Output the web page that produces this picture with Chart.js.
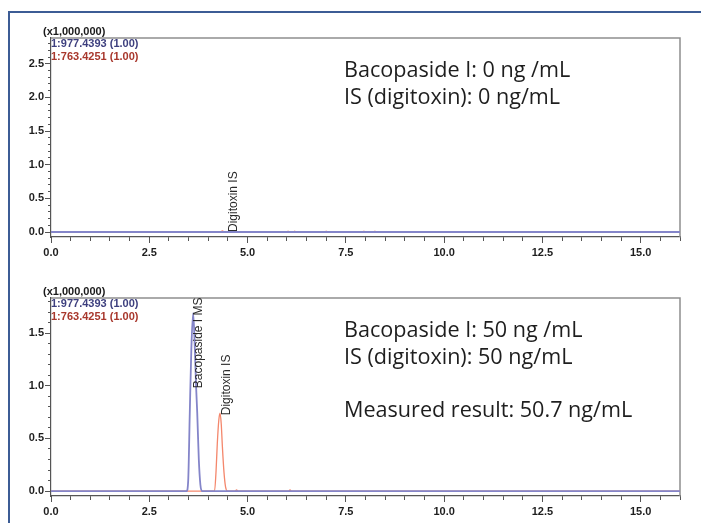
<!DOCTYPE html>
<html><head><meta charset="utf-8">
<script src="https://cdn.jsdelivr.net/npm/chart.js@4"></script>
<style>
html,body{margin:0;padding:0;background:#fff;width:701px;height:523px;overflow:hidden;position:relative;}
#frame{position:absolute;left:8px;top:11px;width:700px;height:520px;border-left:2px solid #3c5c95;border-top:2px solid #3c5c95;}
canvas{position:absolute;left:0;}
#c1{top:0}
#c2{top:262px}
</style></head><body>
<div id="frame"></div>
<canvas id="c1" width="701" height="262"></canvas>
<canvas id="c2" width="701" height="261"></canvas>
<script>
// ---- tick labels ----
const xMajorTicks = [0, 2.5, 5, 7.5, 10, 12.5, 15];
const yMajorTicksTop = [0, 0.5, 1, 1.5, 2, 2.5];
const yMajorTicksBottom = [0, 0.5, 1, 1.5];

// ---- blank sample (top) : m/z 977.4393 and 763.4251, intensity x1,000,000 ----
const blankTime977 = [0, 16];
const blankInt977 = [0, 0];
const blankTime763 = [0, 4.30, 4.36, 4.42, 6.00, 6.03, 6.06, 6.17, 6.20, 6.23, 6.97, 7.00, 7.03, 7.93, 7.96, 7.99, 8.21, 8.24, 8.27, 16];
const blankInt763 = [0, 0, 0.015, 0, 0, 0.012, 0, 0, 0.012, 0, 0, 0.012, 0, 0, 0.012, 0, 0, 0.012, 0, 0];

// ---- 50 ng/mL sample (bottom) ----
const stdTime977 = [0, 3.45, 3.49, 3.53, 3.57, 3.615, 3.65, 3.69, 3.72, 3.76, 3.80, 3.84, 16];
const stdInt977 = [0, 0, 0.10, 0.74, 1.35, 1.69, 1.45, 1.00, 0.74, 0.30, 0.06, 0, 0];
const stdTime763 = [0, 4.16, 4.20, 4.23, 4.27, 4.30, 4.33, 4.36, 4.40, 4.44, 4.49, 4.69, 4.72, 4.75, 6.05, 6.08, 6.11, 16];
const stdInt763 = [0, 0, 0.20, 0.45, 0.68, 0.74, 0.64, 0.42, 0.18, 0.04, 0, 0, 0.012, 0, 0, 0.012, 0, 0];

// ---- peak labels ----
const topPeakNames = ['Digitoxin IS'];
const topPeakTimes = [4.64];
const topPeakBase = [0];
const bottomPeakNames = ['Bacopaside I MS', 'Digitoxin IS'];
const bottomPeakTimes = [3.76, 4.46];
const bottomPeakBase = [0.977, 0.72];

// ---- texts ----
const scaleNote = '(x1,000,000)';
const traceNames = ['1:977.4393 (1.00)', '1:763.4251 (1.00)'];
const topNotes = ['Bacopaside I: 0 ng /mL', 'IS (digitoxin): 0 ng/mL'];
const bottomNotes = ['Bacopaside I: 50 ng /mL', 'IS (digitoxin): 50 ng/mL', '', 'Measured result: 50.7 ng/mL'];

Chart.defaults.font.family = "'Liberation Sans', Arial, sans-serif";

const BLUE = '#8485c9', RED = '#f4876c';
const zip = (t, v) => t.map((x, i) => ({x: x, y: v[i]}));

const chartPlugin = {
  id: 'chromDecor',
  beforeDatasetsDraw(chart) {
    const {ctx, chartArea: a} = chart;
    ctx.save();
    ctx.strokeStyle = '#8e8e8e';
    ctx.lineWidth = 1.5;
    ctx.beginPath();
    ctx.moveTo(a.left, a.top);
    ctx.lineTo(a.right, a.top);
    ctx.lineTo(a.right, a.bottom);
    ctx.stroke();
    ctx.restore();
  },
  afterDraw(chart, args, opts) {
    const {ctx, chartArea: a} = chart;
    const xs = chart.scales.x, ys = chart.scales.y;
    ctx.save();
    // scale note and trace names
    ctx.textBaseline = 'middle';
    ctx.textAlign = 'left';
    ctx.font = "bold 11px 'Liberation Sans', Arial";
    ctx.fillStyle = '#1a1a1a';
    ctx.fillText(scaleNote, a.left - 8, a.top - 6);
    ctx.fillStyle = '#3d3f7e';
    ctx.fillText(traceNames[0], a.left, a.top + 6);
    ctx.fillStyle = '#a8372c';
    ctx.fillText(traceNames[1], a.left, a.top + 18.5);
    // notes
    ctx.textBaseline = 'alphabetic';
    ctx.font = "21.6px 'Open Sans', 'Noto Sans', sans-serif";
    ctx.fillStyle = '#1e1e1e';
    opts.notes.forEach((t, i) => {
      if (t) ctx.fillText(t, 344, a.top + 39 + i * 26.5);
    });
    // vertical peak labels
    ctx.font = "12px 'Liberation Sans', Arial";
    ctx.fillStyle = '#2a2a2a';
    opts.names.forEach((n, i) => {
      const px = xs.getPixelForValue(opts.times[i]);
      const py = ys.getPixelForValue(opts.base[i]);
      ctx.save();
      ctx.translate(px, py);
      ctx.rotate(-Math.PI / 2);
      ctx.textAlign = 'left';
      ctx.textBaseline = 'middle';
      ctx.fillText(n, 0, 0);
      ctx.restore();
    });
    ctx.restore();
  }
};

function axisFont() { return {family: "'Liberation Sans', Arial", size: 11, weight: 'bold'}; }

function makeChart(id, t977, i977, t763, i763, yMin, yMax, yMajor, padTop, xH, decor) {
  return new Chart(document.getElementById(id), {
    type: 'line',
    data: {
      datasets: [
        {data: zip(t977, i977), borderColor: BLUE, borderWidth: 1.8, pointRadius: 0, cubicInterpolationMode: 'monotone', fill: false},
        {data: zip(t763, i763), borderColor: RED, borderWidth: 1.3, pointRadius: 0, cubicInterpolationMode: 'monotone', fill: false}
      ]
    },
    options: {
      responsive: false,
      animation: false,
      events: [],
      layout: {padding: {top: padTop, right: 21, left: 0, bottom: 0}},
      plugins: {legend: {display: false}, tooltip: {enabled: false}, chromDecor: decor},
      scales: {
        x: {
          type: 'linear', position: 'bottom', min: 0, max: 16, weight: 1,
          afterBuildTicks: s => { s.ticks = xMajorTicks.map(v => ({value: v})); },
          ticks: {autoSkip: false, maxRotation: 0, color: '#1e1e1e', font: axisFont(), padding: 3,
                  callback: v => Number(v).toFixed(1)},
          grid: {drawOnChartArea: false, drawTicks: true, tickLength: 6, color: '#555'},
          border: {display: false},
          afterFit: s => { s.height = xH; }
        },
        xm: {
          type: 'linear', position: 'bottom', min: 0, max: 16, weight: 0,
          ticks: {stepSize: 0.5, includeBounds: false, maxTicksLimit: 200, display: false},
          grid: {drawOnChartArea: false, drawTicks: true, tickLength: 4, color: '#555'},
          border: {display: true, color: '#555', width: 1.2},
          afterFit: s => { s.height = 0; }
        },
        y: {
          type: 'linear', position: 'left', min: yMin, max: yMax, weight: 1,
          afterBuildTicks: s => { s.ticks = yMajor.map(v => ({value: v})); },
          ticks: {autoSkip: false, color: '#1e1e1e', font: axisFont(), padding: 1,
                  callback: v => Number(v).toFixed(1)},
          grid: {drawOnChartArea: false, drawTicks: true, tickLength: 6, color: '#555'},
          border: {display: false},
          afterFit: s => { s.width = 51; }
        },
        ym: {
          type: 'linear', position: 'left', min: yMin, max: yMax, weight: 0,
          ticks: {stepSize: 0.1, includeBounds: false, maxTicksLimit: 200, display: false},
          grid: {drawOnChartArea: false, drawTicks: true, tickLength: 3, color: '#555'},
          border: {display: true, color: '#555', width: 1.2},
          afterFit: s => { s.width = 0; }
        }
      }
    },
    plugins: [chartPlugin]
  });
}

makeChart('c1', blankTime977, blankInt977, blankTime763, blankInt763, -0.074, 2.883, yMajorTicksTop, 38, 25,
  {notes: topNotes, names: topPeakNames, times: topPeakTimes, base: topPeakBase});
makeChart('c2', stdTime977, stdInt977, stdTime763, stdInt763, -0.047, 1.834, yMajorTicksBottom, 36, 27,
  {notes: bottomNotes, names: bottomPeakNames, times: bottomPeakTimes, base: bottomPeakBase});
</script></body></html>
